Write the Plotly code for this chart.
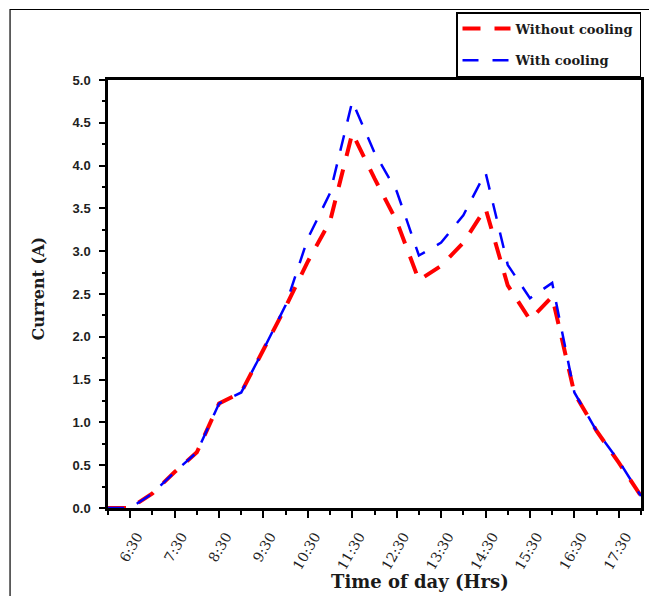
import plotly.graph_objects as go

# ---- data ----
times = ["6:00", "6:30", "7:00", "7:30", "8:00", "8:30", "9:00", "9:30", "10:00",
         "10:30", "11:00", "11:30", "12:00", "12:30", "13:00", "13:30", "14:00",
         "14:30", "15:00", "15:30", "16:00", "16:30", "17:00", "17:30", "18:00"]
without_cooling = [0, 0, 0.17, 0.42, 0.65, 1.22, 1.35, 1.85, 2.35, 2.88, 3.35, 4.38,
                   3.85, 3.35, 2.66, 2.83, 3.10, 3.50, 2.60, 2.20, 2.47, 1.34, 0.90,
                   0.53, 0.14]
with_cooling = [0, 0, 0.17, 0.42, 0.65, 1.22, 1.35, 1.85, 2.37, 3.15, 3.68, 4.75,
                4.15, 3.70, 2.95, 3.10, 3.42, 3.92, 2.84, 2.45, 2.63, 1.35, 0.90,
                0.55, 0.14]
x_tick_labels = ["6:30", "7:30", "8:30", "9:30", "10:30", "11:30", "12:30",
                 "13:30", "14:30", "15:30", "16:30", "17:30"]


def to_hours(t):
    h, m = t.split(":")
    return int(h) + int(m) / 60.0


hours = [to_hours(t) for t in times]
tick_hours = [to_hours(t) for t in x_tick_labels]

fig = go.Figure()
fig.add_trace(go.Scatter(
    x=hours, y=without_cooling, mode="lines", name="Without cooling",
    legendgroup="a",
    line=dict(color="#ff0000", width=4, dash="18px,14px"),
))
fig.add_trace(go.Scatter(
    x=hours, y=with_cooling, mode="lines", name="With cooling",
    legendgroup="b",
    line=dict(color="#0000ff", width=2.5, dash="16px,14px"),
))

W, H = 649, 596
L, R, T, B = 108, 5, 80, 88


def px_x(p):
    return (p - L) / (W - L - R)


def px_y(p):
    return (H - B - p) / (H - T - B)


fig.update_layout(
    width=W, height=H,
    margin=dict(l=L, r=R, t=T, b=B),
    paper_bgcolor="white", plot_bgcolor="white",
    showlegend=True,
    legend=dict(
        x=1.0, xanchor="right", y=px_y(12), yanchor="top",
        bgcolor="white", bordercolor="black", borderwidth=1.5,
        font=dict(family="DejaVu Serif", size=13, color="#1a1a1a", weight="bold"),
        tracegroupgap=12, traceorder="grouped", itemwidth=48,
    ),
    xaxis=dict(
        range=[6, 18], showgrid=False, zeroline=False,
        showline=True, linecolor="black", linewidth=2.5, mirror=True,
        tickvals=tick_hours, ticktext=x_tick_labels,
        ticks="outside", ticklen=7, tickwidth=2, tickcolor="black",
        tickangle=-60, ticklabelshift=7, ticklabelstandoff=5,
        tickfont=dict(family="DejaVu Serif", size=14, color="#222"),
        minor=dict(dtick=0.5, tick0=6, ticks="outside", ticklen=4,
                   tickwidth=2, tickcolor="black"),
    ),
    yaxis=dict(
        range=[0, 5], showgrid=False, zeroline=False,
        showline=True, linecolor="black", linewidth=2.5, mirror=True,
        dtick=0.5, tick0=0, tickformat=".1f",
        ticks="outside", ticklen=6, tickwidth=2, tickcolor="black",
        ticklabelstandoff=6,
        tickfont=dict(family="Liberation Sans", size=13, color="#222", weight="bold"),
        minor=dict(dtick=0.25, ticks="outside", ticklen=3, tickwidth=2,
                   tickcolor="black"),
    ),
    annotations=[
        dict(text="Time of day (Hrs)", xref="paper", yref="paper",
             x=px_x(422), y=px_y(581), xanchor="center", yanchor="middle",
             showarrow=False,
             font=dict(family="DejaVu Serif", size=18, color="#1a1a1a", weight="bold")),
        dict(text="Current (A)", xref="paper", yref="paper",
             x=px_x(38), y=px_y(288), xanchor="center", yanchor="middle",
             textangle=-90, showarrow=False,
             font=dict(family="DejaVu Serif", size=16, color="#1a1a1a", weight="bold")),
    ],
    shapes=[
        dict(type="rect", xref="paper", yref="paper",
             x0=px_x(9.5), x1=px_x(660), y0=px_y(620), y1=px_y(9.5),
             line=dict(color="black", width=1.2), fillcolor="rgba(0,0,0,0)",
             layer="below"),
    ],
)

fig.write_html("out.html",
               config={"displayModeBar": False},
               post_script="document.body.style.margin='0';document.body.style.overflow='hidden';")
